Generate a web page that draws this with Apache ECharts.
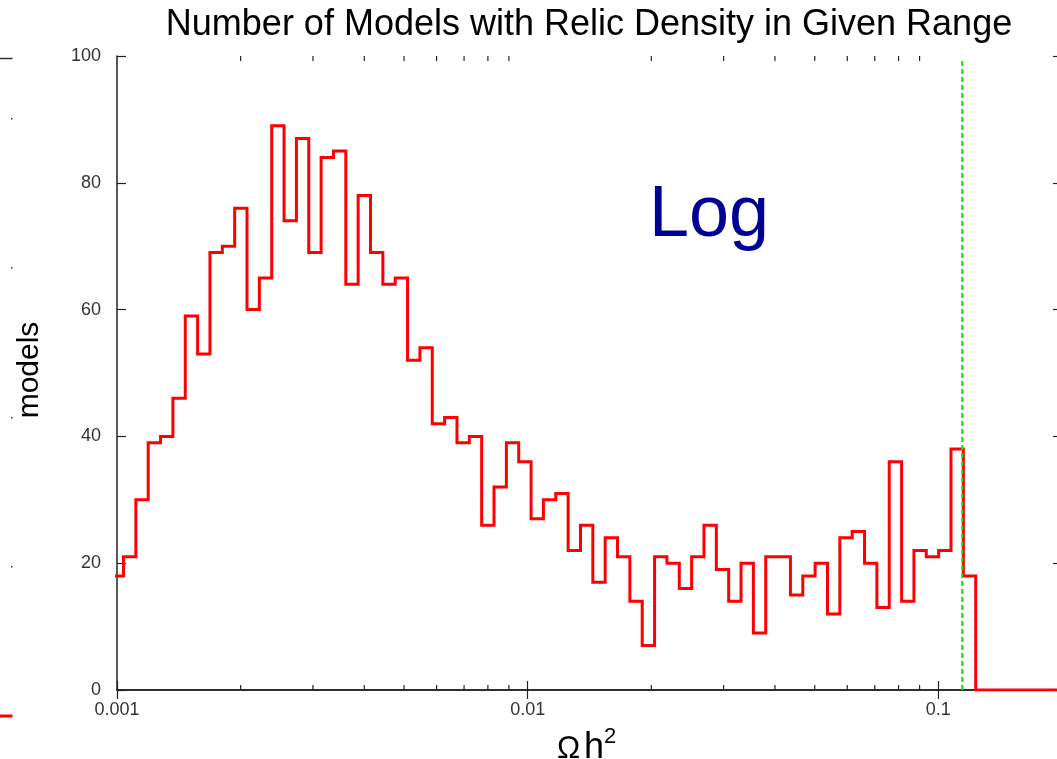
<!DOCTYPE html>
<html>
<head>
<meta charset="utf-8">
<script src="https://cdn.jsdelivr.net/npm/echarts@6/dist/echarts.min.js"></script>
<style>
html,body{margin:0;padding:0;background:#fff;overflow:hidden;width:1057px;height:759px;}
#chart{width:1062px;height:759px;}
</style>
</head>
<body>
<div id="chart"></div>
<script>
// ---- data ----
const titleText = 'Number of Models with Relic Density in Given Range';
const yAxisTitle = 'models';
const annotation = 'Log';
// histogram counts per log-spaced bin (first bin is partially left of 0.001)
const counts = [18, 21, 30, 39, 40, 46, 59, 53, 69, 70,
                76, 60, 65, 89, 74, 87, 69, 84, 85, 64,
                78, 69, 64, 65, 52, 54, 42, 43, 39, 40,
                26, 32, 39, 36, 27, 30, 31, 22, 26, 17,
                24, 21, 14, 7, 21, 20, 16, 21, 26, 19,
                14, 20, 9, 21, 21, 15, 18, 20, 12, 24,
                25, 20, 13, 36, 14, 22, 21, 22, 38, 18];
const binLogStart = -3.01424;   // log10 of first bin's lower edge
const binLogWidth = 0.030073;   // bin width in decades
const xMin = 0.001, xMax = 0.2;
const wmapLine = 0.1143;        // vertical dashed green line
const xTickLabels = {'-3': '0.001', '-2': '0.01', '-1': '0.1'};
const minorTicks = [0.002, 0.003, 0.004, 0.005, 0.006, 0.007, 0.008, 0.009,
                    0.02, 0.03, 0.04, 0.05, 0.06, 0.07, 0.08, 0.09];

// ---- build step outline ----
const edges = [];
for (let i = 0; i <= counts.length; i++) edges.push(Math.pow(10, binLogStart + i * binLogWidth));
const stepPts = [];
counts.forEach((c, i) => { stepPts.push([edges[i], c]); stepPts.push([edges[i + 1], c]); });
stepPts.push([edges[counts.length], 0]);
stepPts.push([xMax, 0]);

const FONT = "'Liberation Sans', Arial, Helvetica, sans-serif";
const AX = '#222';

const chart = echarts.init(document.getElementById('chart'), null, {renderer: 'canvas'});
const option = {
  backgroundColor: '#fff',
  animation: false,
  grid: {left: 117, right: 0, top: 56, bottom: 69, containLabel: false},
  xAxis: [{
    type: 'log', logBase: 10, min: xMin, max: xMax, position: 'bottom',
    axisLine: {show: true, lineStyle: {color: AX, width: 1.5}},
    axisTick: {show: true, inside: true, length: 9, lineStyle: {color: AX, width: 1.2}},
    axisLabel: {show: true, margin: 11, color: '#333', fontSize: 18, fontFamily: FONT,
      showMaxLabel: false,
      formatter: v => xTickLabels[String(Math.round(Math.log10(v)))] || ''},
    splitLine: {show: false}
  }, {
    type: 'log', logBase: 10, min: xMin, max: xMax, position: 'top',
    axisLine: {show: true, lineStyle: {color: AX, width: 1.5}},
    axisTick: {show: true, inside: true, length: 9, lineStyle: {color: AX, width: 1.2}},
    axisLabel: {show: false}, splitLine: {show: false}
  }],
  yAxis: [{
    type: 'value', min: 0, max: 100, interval: 20, position: 'left',
    axisLine: {show: true, lineStyle: {color: AX, width: 1.5}},
    axisTick: {show: true, inside: true, length: 9, lineStyle: {color: AX, width: 1.2}},
    axisLabel: {show: true, margin: 16, color: '#333', fontSize: 18, fontFamily: FONT},
    splitLine: {show: false}
  }, {
    type: 'value', min: 0, max: 100, interval: 20, position: 'right',
    axisLine: {show: true, lineStyle: {color: AX, width: 1.5}},
    axisTick: {show: true, inside: true, length: 9, lineStyle: {color: AX, width: 1.2}},
    axisLabel: {show: false}, splitLine: {show: false}
  }],
  series: [{
    type: 'line', name: 'models', data: stepPts, xAxisIndex: 0, yAxisIndex: 0,
    showSymbol: false, symbol: 'none', clip: true, z: 5,
    lineStyle: {color: '#ff0000', width: 3, join: 'miter'}
  }, {
    type: 'line', data: [[wmapLine, 0], [wmapLine, 99.7]], xAxisIndex: 0, yAxisIndex: 0,
    showSymbol: false, symbol: 'none', z: 6,
    lineStyle: {color: '#00ee00', width: 2, type: [5, 3]}
  }, {
    type: 'custom', xAxisIndex: 0, yAxisIndex: 0, z: 4,
    data: minorTicks.map(v => [v, 0]),
    encode: {x: 0, y: 1},
    renderItem: function (params, api) {
      const v = api.value(0);
      const b = api.coord([v, 0]);
      const t = api.coord([v, 100]);
      return {type: 'group', children: [
        {type: 'line', shape: {x1: b[0], y1: b[1], x2: b[0], y2: b[1] - 5}, style: {stroke: AX, lineWidth: 1.2}},
        {type: 'line', shape: {x1: t[0], y1: t[1], x2: t[0], y2: t[1] + 5}, style: {stroke: AX, lineWidth: 1.2}}
      ]};
    }
  }],
  graphic: [
    {type: 'text', x: 589, y: 25, style: {text: titleText, fontSize: 36, fontFamily: FONT, fill: '#000',
      align: 'center', verticalAlign: 'middle'}},
    {type: 'text', x: 30, y: 370, rotation: Math.PI / 2, style: {text: yAxisTitle, fontSize: 30, fontFamily: FONT,
      fill: '#000', align: 'center', verticalAlign: 'middle'}},
    {type: 'text', x: 649, y: 216, style: {text: annotation, fontSize: 72, fontFamily: FONT, fill: '#000099',
      align: 'left', verticalAlign: 'middle'}},
    {type: 'text', x: 557, y: 749, style: {text: 'Ω', fontSize: 31, fontFamily: FONT, fill: '#000',
      align: 'left', verticalAlign: 'middle'}},
    {type: 'text', x: 584, y: 748, style: {text: 'h', fontSize: 36, fontFamily: FONT, fill: '#000',
      align: 'left', verticalAlign: 'middle'}},
    {type: 'text', x: 604, y: 737, style: {text: '2', fontSize: 22, fontFamily: FONT, fill: '#000',
      align: 'left', verticalAlign: 'middle'}},
    // remnants of neighbouring panel at the left edge
    {type: 'line', shape: {x1: 0, y1: 58.5, x2: 12.5, y2: 58.5}, style: {stroke: '#333', lineWidth: 1.5}},
    {type: 'rect', shape: {x: 11, y: 118, width: 1.5, height: 1.5}, style: {fill: '#333'}},
    {type: 'rect', shape: {x: 11, y: 267, width: 1.5, height: 1.5}, style: {fill: '#333'}},
    {type: 'rect', shape: {x: 11, y: 417, width: 1.5, height: 1.5}, style: {fill: '#333'}},
    {type: 'rect', shape: {x: 11, y: 566, width: 1.5, height: 1.5}, style: {fill: '#333'}},
    {type: 'line', shape: {x1: 0, y1: 716, x2: 12.5, y2: 716}, style: {stroke: '#ff0000', lineWidth: 3}}
  ]
};
chart.setOption(option);
</script>
</body>
</html>
